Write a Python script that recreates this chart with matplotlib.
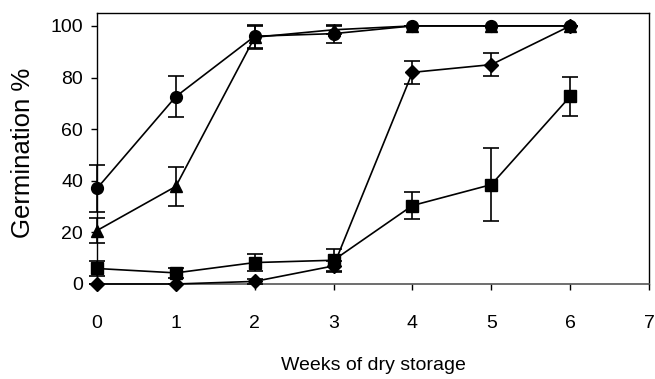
import matplotlib
matplotlib.use("Agg")
import matplotlib.pyplot as plt

plt.rcParams['font.family'] = ['Liberation Sans', 'DejaVu Sans']

weeks = [0, 1, 2, 3, 4, 5, 6]

circle_mean = [37, 72.6, 96, 97, 100, 100, 100]
circle_err = [9, 8, 4.5, 3.5, 0, 0, 0]

triangle_mean = [20.7, 37.8, 95.6, 98.5, 100, 100, 100]
triangle_err = [5, 7.5, 4.5, 1.5, 0, 0, 0]

diamond_mean = [0, 0, 1, 7, 82, 85, 100]
diamond_err = [0, 0, 1, 2, 4.5, 4.5, 0]

square_mean = [6, 4.3, 8.3, 9.2, 30.4, 38.5, 72.7]
square_err = [3, 2, 3.3, 4.4, 5.2, 14, 7.5]

x_ticks = [0, 1, 2, 3, 4, 5, 6, 7]
y_ticks = [0, 20, 40, 60, 80, 100]

fig = plt.figure(figsize=(6.55, 3.79), dpi=100)
ax = fig.add_axes([0.148, 0.2507, 0.843, 0.715])

series = [
    (square_mean, square_err, 's', 8),
    (diamond_mean, diamond_err, 'D', 7.5),
    (circle_mean, circle_err, 'o', 8.5),
    (triangle_mean, triangle_err, '^', 9),
]
for mean, err, marker, ms in series:
    ax.errorbar(weeks, mean, yerr=err, fmt='-', marker=marker, color='black',
                markersize=ms, linewidth=1.2, elinewidth=1.2, capsize=5.5,
                capthick=1.2, clip_on=False, zorder=3)

ax.set_xlim(0, 7)
ax.set_ylim(0, 105)
ax.set_xticks(x_ticks)
ax.set_yticks(y_ticks)
ax.tick_params(axis='both', direction='out', length=4, width=1, labelsize=14)
ax.tick_params(axis='x', pad=18)
ax.tick_params(axis='y', pad=6)

for side in ['top', 'right', 'left']:
    ax.spines[side].set_color('black')
    ax.spines[side].set_linewidth(1.0)
ax.spines['bottom'].set_color('#555555')
ax.spines['bottom'].set_linewidth(1.2)

ax.set_xlabel('Weeks of dry storage', fontsize=14)
ax.xaxis.set_label_coords(0.5, -0.27)
ax.set_ylabel('Germination %', fontsize=18.5)
ax.yaxis.set_label_coords(-0.113, 0.483)

fig.savefig('out.png', dpi=100)
